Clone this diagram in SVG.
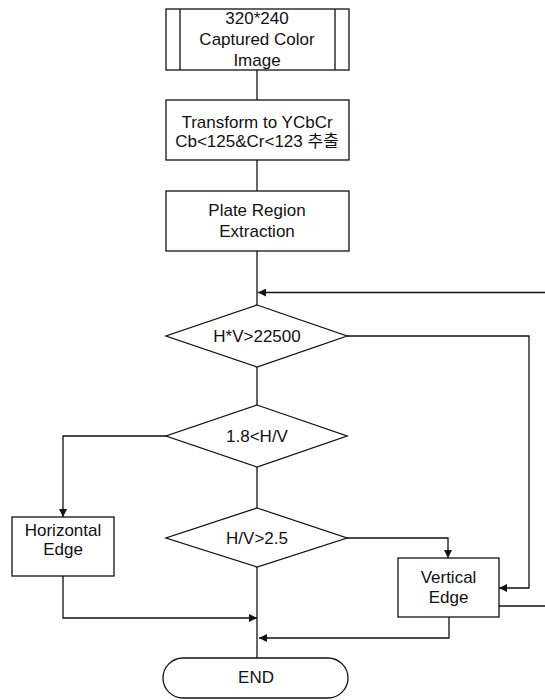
<svg xmlns="http://www.w3.org/2000/svg" width="545" height="700" viewBox="0 0 545 700">
<defs>
<style>
.s{fill:#fff;stroke:#111;stroke-width:1.3}
.c{fill:none;stroke:#111;stroke-width:1.3}
text{font-family:"Liberation Sans","Noto Sans CJK KR",Arial,sans-serif;font-size:17px;fill:#111;text-anchor:middle}
</style>
<marker id="ah" viewBox="0 0 10 10" refX="10" refY="5" markerWidth="8" markerHeight="8" markerUnits="userSpaceOnUse" orient="auto">
<path d="M0,0 L10,5 L0,10 z" fill="#111"/>
</marker>
</defs>
<rect width="545" height="700" fill="#fff"/>
<g id="connectors">
<path class="c" d="M257,70 V100"/>
<path class="c" d="M257,160 V191"/>
<path class="c" d="M257,251 V305"/>
<path class="c" d="M545,292.5 H258" marker-end="url(#ah)"/>
<path class="c" d="M347,336 H529 V588 H499" marker-end="url(#ah)"/>
<path class="c" d="M257,367 V405"/>
<path class="c" d="M166,436 H63 V517" marker-end="url(#ah)"/>
<path class="c" d="M257,467 V508"/>
<path class="c" d="M347,538 H448 V558" marker-end="url(#ah)"/>
<path class="c" d="M257,567 V658"/>
<path class="c" d="M63,576 V618 H257" marker-end="url(#ah)"/>
<path class="c" d="M449,617 V638 H259" marker-end="url(#ah)"/>
<path class="c" d="M499,606 H545"/>
</g>
<g id="n1">
<rect class="s" x="166" y="9" width="183" height="61"/>
<path class="c" d="M180,9 V70 M335,9 V70"/>
<text x="257" y="24">320*240</text>
<text x="257" y="45">Captured Color</text>
<text x="257" y="66">Image</text>
</g>
<g id="n2">
<rect class="s" x="166" y="100" width="183" height="60"/>
<text x="257" y="128">Transform to YCbCr</text>
<text x="257" y="147">Cb&lt;125&amp;Cr&lt;123 추출</text>
</g>
<g id="n3">
<rect class="s" x="166" y="191" width="183" height="60"/>
<text x="257" y="216">Plate Region</text>
<text x="257" y="237">Extraction</text>
</g>
<g id="d1">
<polygon class="s" points="257,305 347,336 257,367 166,336"/>
<text x="257" y="342">H*V&gt;22500</text>
</g>
<g id="d2">
<polygon class="s" points="257,405 347,436 257,467 166,436"/>
<text x="257" y="442">1.8&lt;H/V</text>
</g>
<g id="d3">
<polygon class="s" points="257,508 347,538 257,567 166,538"/>
<text x="257" y="544">H/V&gt;2.5</text>
</g>
<g id="hedge">
<rect class="s" x="12" y="517" width="102" height="59"/>
<text x="63" y="536">Horizontal</text>
<text x="63" y="555">Edge</text>
</g>
<g id="vedge">
<rect class="s" x="398" y="558" width="101" height="59"/>
<text x="448.5" y="583">Vertical</text>
<text x="448.5" y="603">Edge</text>
</g>
<g id="end">
<rect class="s" x="163" y="658" width="185" height="40" rx="20" ry="20"/>
<text x="256" y="683">END</text>
</g>
</svg>
